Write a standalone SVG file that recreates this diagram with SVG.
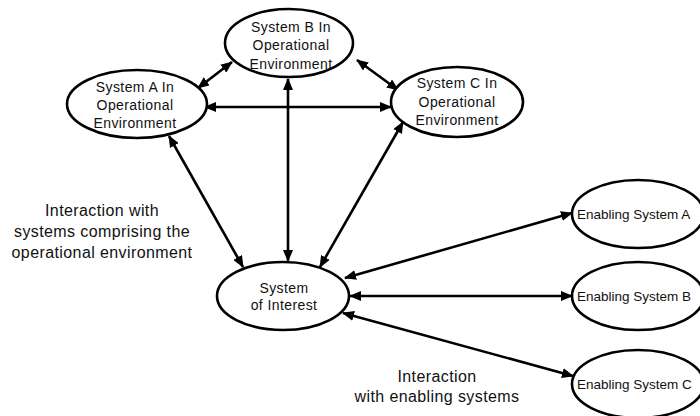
<svg xmlns="http://www.w3.org/2000/svg" width="700" height="416" viewBox="0 0 700 416">
<style>
.node ellipse{fill:#fff;stroke:#000;stroke-width:2.6}
.lbl{font-family:"Liberation Sans",Arial,sans-serif;font-size:14px;fill:#111;text-anchor:middle;letter-spacing:0.4px}
.en{font-family:"Liberation Sans",Arial,sans-serif;font-size:13.5px;fill:#111}
.note{font-family:"Liberation Sans",Arial,sans-serif;font-size:16px;fill:#111;text-anchor:middle;letter-spacing:0.4px}
.conn line{stroke:#000;stroke-width:2.6;marker-start:url(#ah);marker-end:url(#ah)}
</style>
<defs>
<marker id="ah" markerUnits="userSpaceOnUse" markerWidth="12" markerHeight="10" refX="11" refY="5" orient="auto-start-reverse" viewBox="0 0 12 10">
<path d="M0,0 L12,5 L0,10 z" fill="#000"/>
</marker>
</defs>
<rect width="700" height="416" fill="#fff"/>
<g id="connectors" class="conn">
<line x1="198" y1="88" x2="232" y2="62"/>
<line x1="357" y1="60" x2="398" y2="90"/>
<line x1="205" y1="107" x2="391" y2="107"/>
<line x1="288" y1="79" x2="288" y2="261"/>
<line x1="169" y1="136" x2="243" y2="267"/>
<line x1="403" y1="122" x2="320" y2="267"/>
<line x1="345" y1="278" x2="572" y2="213"/>
<line x1="350" y1="296" x2="572" y2="296"/>
<line x1="343" y1="313" x2="573" y2="376"/>
</g>
<g id="sysB" class="node">
<ellipse cx="289" cy="43" rx="64" ry="34"/>
<text class="lbl" x="291" y="32">System B In</text>
<text class="lbl" x="291" y="50">Operational</text>
<text class="lbl" x="291" y="69">Environment</text>
</g>
<g id="sysA" class="node">
<ellipse cx="137" cy="104" rx="70" ry="34"/>
<text class="lbl" x="135" y="92">System A In</text>
<text class="lbl" x="135" y="110">Operational</text>
<text class="lbl" x="135" y="128">Environment</text>
</g>
<g id="sysC" class="node">
<ellipse cx="457" cy="102" rx="66" ry="35"/>
<text class="lbl" x="457" y="88">System C In</text>
<text class="lbl" x="457" y="107">Operational</text>
<text class="lbl" x="457" y="125">Environment</text>
</g>
<g id="soi" class="node">
<ellipse cx="283" cy="296" rx="66" ry="34"/>
<text class="lbl" x="284" y="293">System</text>
<text class="lbl" x="284" y="310">of Interest</text>
</g>
<g id="enA" class="node">
<ellipse cx="638" cy="214" rx="66" ry="34"/>
<text class="en" x="577" y="219">Enabling System A</text>
</g>
<g id="enB" class="node">
<ellipse cx="638" cy="296" rx="66" ry="34"/>
<text class="en" x="577" y="301">Enabling System B</text>
</g>
<g id="enC" class="node">
<ellipse cx="638" cy="384" rx="66" ry="34"/>
<text class="en" x="577" y="389">Enabling System C</text>
</g>
<g id="notes">
<text class="note" x="102" y="216">Interaction with</text>
<text class="note" x="102" y="237">systems comprising the</text>
<text class="note" x="102" y="258">operational environment</text>
<text class="note" x="437" y="382">Interaction</text>
<text class="note" x="437" y="402">with enabling systems</text>
</g>
</svg>
